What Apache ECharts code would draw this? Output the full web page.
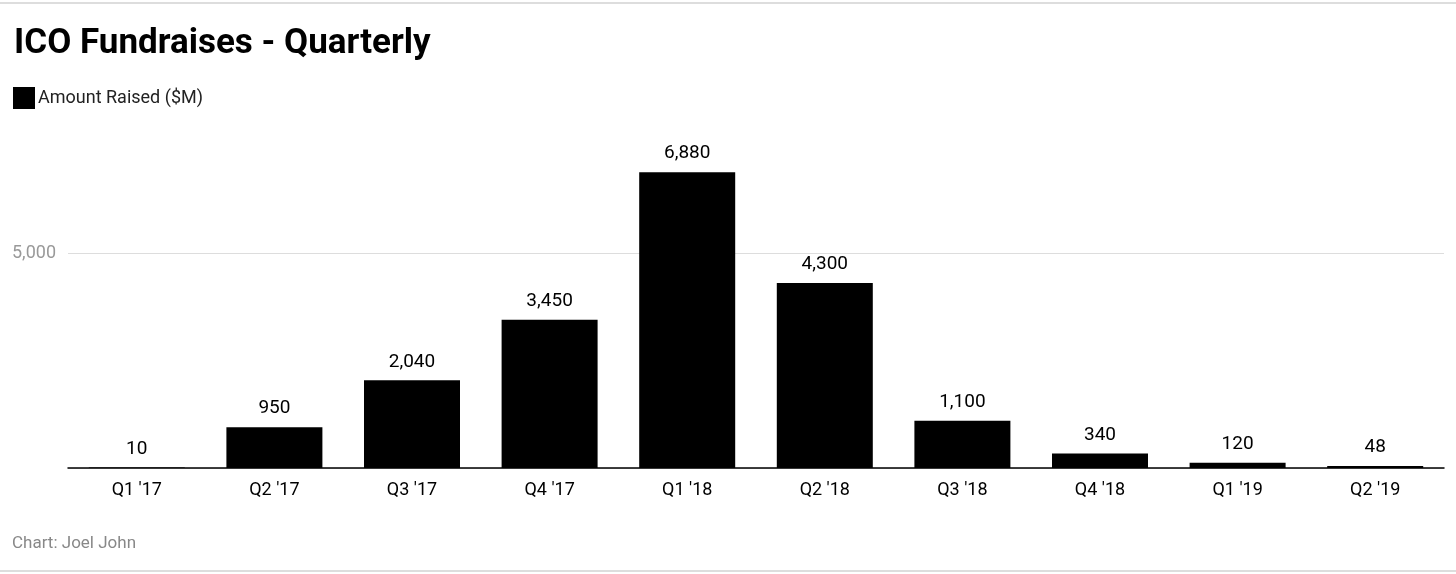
<!DOCTYPE html>
<html>
<head>
<meta charset="utf-8">
<script src="https://cdn.jsdelivr.net/npm/echarts@6/dist/echarts.min.js"></script>
<style>
  html, body { margin: 0; padding: 0; background: #fff; }
  #chart { width: 1456px; height: 574px; }
</style>
</head>
<body>
<div id="chart"></div>
<script>
  var quarters = ["Q1 '17", "Q2 '17", "Q3 '17", "Q4 '17", "Q1 '18", "Q2 '18", "Q3 '18", "Q4 '18", "Q1 '19", "Q2 '19"];
  var amountRaised = [10, 950, 2040, 3450, 6880, 4300, 1100, 340, 120, 48];

  var chart = echarts.init(document.getElementById("chart"));
  var font = "Roboto, 'Noto Sans', sans-serif";

  chart.setOption({
    animation: false,
    textStyle: { fontFamily: font },
    title: {
      text: "ICO Fundraises - Quarterly",
      left: 9, top: 22,
      textStyle: { fontFamily: font, fontSize: 35, fontWeight: "bold", color: "#000" }
    },
    legend: {
      left: 8, top: 82,
      itemWidth: 22, itemHeight: 22, itemGap: 6,
      icon: "rect",
      textStyle: { fontSize: 18, color: "#222", padding: [0, 0, 0, -2] },
      data: ["Amount Raised ($M)"]
    },
    grid: { left: 68, right: 12, top: 38, bottom: 106 },
    xAxis: {
      type: "category",
      data: quarters,
      axisLine: { lineStyle: { color: "#000", width: 1.5 } },
      axisTick: { show: false },
      axisLabel: { color: "#000", fontSize: 18, margin: 13 }
    },
    yAxis: {
      type: "value",
      min: 0, max: 10000, interval: 5000,
      axisLine: { show: false },
      axisTick: { show: false },
      splitLine: { lineStyle: { color: ["#ddd", "#ddd", "rgba(0,0,0,0)"] } },
      axisLabel: {
        color: "#999", fontSize: 18, margin: 56, align: "left",
        formatter: function (v) { return v === 5000 ? "5,000" : ""; }
      }
    },
    series: [{
      name: "Amount Raised ($M)",
      type: "bar",
      data: amountRaised,
      barWidth: 96,
      itemStyle: { color: "#000" },
      label: {
        show: true, position: "top", distance: 9,
        color: "#000", fontSize: 19,
        formatter: function (p) { return p.value.toLocaleString("en-US"); }
      }
    }],
    graphic: [
      { type: "rect", shape: { x: 0, y: 2, width: 1456, height: 2 }, style: { fill: "#ddd" } },
      { type: "rect", shape: { x: 0, y: 570, width: 1456, height: 2 }, style: { fill: "#ddd" } },
      { type: "text", left: 12, top: 535, style: { text: "Chart: Joel John", fill: "#888", font: "17px " + font } }
    ]
  });
</script>
</body>
</html>
